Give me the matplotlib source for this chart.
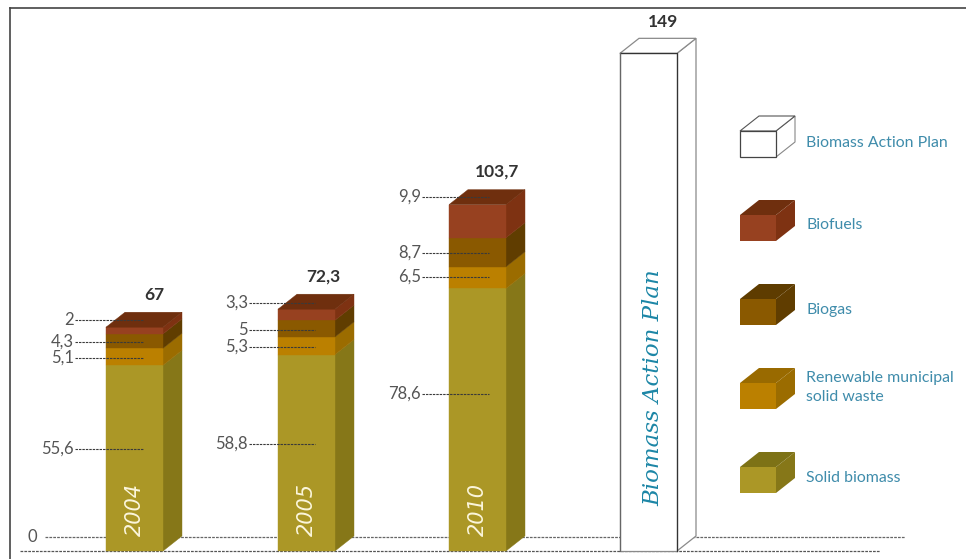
import matplotlib
matplotlib.use('Agg')
import matplotlib.pyplot as plt
from matplotlib.patches import Polygon

years = ['2004', '2005', '2010']
solid_biomass = [55.6, 58.8, 78.6]
municipal_waste = [5.1, 5.3, 6.5]
biogas = [4.3, 5, 8.7]
biofuels = [2, 3.3, 9.9]
totals = ['67', '72,3', '103,7']
plan_total = 149
plan_name = 'Biomass Action Plan'
series_names = ['Solid biomass', 'Renewable municipal\nsolid waste', 'Biogas', 'Biofuels']

# front, side, top colours of each stacked layer
colors = [('#ab9726', '#867718', '#7d7216'),
          ('#bb8000', '#9b6c00', '#996a00'),
          ('#8a5900', '#603d00', '#5e3c00'),
          ('#974120', '#7e3212', '#6f2f0e')]

W, H = 966, 559
BASE = 551      # pixel row of value 0
SCALE = 3.34    # pixels per unit
BAR_W = 57
DX, DY = 19, 15  # depth of the boxes, in pixels
bar_left = [106, 278, 449]
plan_left = 620


def py(row):
    # pixel row -> value on the y axis
    return (BASE - row) / SCALE


def box(ax, left, bottom, top, cols, edge=None, top_face=True):
    dy = DY / SCALE
    ax.add_patch(Polygon([(left + BAR_W, bottom), (left + BAR_W + DX, bottom + dy),
                          (left + BAR_W + DX, top + dy), (left + BAR_W, top)],
                         fc=cols[1], ec=edge or cols[1], lw=0.9 if edge else 0.3, zorder=3))
    ax.bar(left, top - bottom, BAR_W, bottom=bottom, align='edge', color=cols[0],
           edgecolor=edge or cols[0], linewidth=0.9 if edge else 0.3, zorder=3)
    if top_face:
        ax.add_patch(Polygon([(left, top), (left + DX, top + dy),
                              (left + BAR_W + DX, top + dy), (left + BAR_W, top)],
                             fc=cols[2], ec=edge or cols[2], lw=0.9 if edge else 0.3, zorder=3))


fig = plt.figure(figsize=(W / 100, H / 100), dpi=100)
ax = fig.add_axes([0, 0, 1, 1])
ax.set_xlim(0, W)
ax.set_ylim(py(H), py(0))
ax.axis('off')
plt.rcParams['font.family'] = ['Lato', 'DejaVu Sans']

# frame at the top and on the left
ax.plot([10, 10], [py(H), py(8)], color='#444444', lw=1.2)
ax.plot([10, W], [py(8), py(8)], color='#444444', lw=1.2)

# the two dashed ground lines
dash = (0, (2.2, 0.9))
ax.plot([45, 905], [py(537), py(537)], color='#666666', lw=0.9, ls=dash, zorder=1)
ax.plot([20, 880], [py(551), py(551)], color='#555555', lw=0.9, ls=dash, zorder=1)
ax.text(32, py(537), '0', ha='center', va='center', fontsize=12, color='#555555')

# stacked boxes
layers = [solid_biomass, municipal_waste, biogas, biofuels]
for i in range(len(years)):
    bottom = 0
    for j, layer in enumerate(layers):
        box(ax, bar_left[i], bottom, bottom + layer[i], colors[j], top_face=j == len(layers) - 1)
        bottom += layer[i]
    ax.text(bar_left[i] + 29, py(509), years[i], rotation=90, ha='center', va='center',
            fontsize=15, family='DejaVu Sans', style='italic', color='#fbf6dc', zorder=5)

# action plan box
box(ax, plan_left, 0, plan_total, ('white', 'white', 'white'), edge='#8a8a8a')
ax.plot([plan_left, plan_left + BAR_W, plan_left + BAR_W],
        [plan_total, plan_total, 0], color='#333333', lw=0.9, zorder=4)
ax.plot([plan_left, plan_left], [0, plan_total], color='#666666', lw=0.9, zorder=4)
ax.text(plan_left + 33, py(388), plan_name, rotation=90, ha='center', va='center', fontsize=16.5,
        family='DejaVu Serif', style='italic', color='#1c86a6', zorder=5)

# totals above the boxes
for x, row, s in zip([154, 323, 497, 663], [295, 277, 172, 22], totals + [str(plan_total)]):
    ax.text(x, py(row), s, ha='center', va='center', fontsize=12.5, weight='bold', color='#333333')

# value labels with their leaders
label_rows = [[449, 358, 342, 320], [444, 347, 330, 303], [394, 277, 253, 197]]
leader_start = [75, 249, 422]
leader_end = [143, 315, 489]
for i in range(len(years)):
    for j, layer in enumerate(layers):
        row = label_rows[i][j]
        ax.plot([leader_start[i], leader_end[i]], [py(row), py(row)], color='#3a3a3a',
                lw=0.8, ls=dash, zorder=4)
        ax.text(leader_start[i] - 1, py(row), str(layer[i]).replace('.', ','), ha='right', va='center',
                fontsize=12, color='#555555')

# legend
leg_left = 740
leg_w = 36
leg_h = 26
leg_rows = [493, 409, 325, 241]
leg_text = [478, 387.5, 310, 225]
teal = '#3f8cab'
for j in range(4):
    b = py(leg_rows[j])
    t = py(leg_rows[j] - leg_h)
    dy = DY / SCALE
    ax.add_patch(Polygon([(leg_left + leg_w, b), (leg_left + leg_w + DX, b + dy),
                          (leg_left + leg_w + DX, t + dy), (leg_left + leg_w, t)], fc=colors[j][1], lw=0))
    ax.add_patch(Polygon([(leg_left, t), (leg_left + DX, t + dy),
                          (leg_left + leg_w + DX, t + dy), (leg_left + leg_w, t)], fc=colors[j][2], lw=0))
    ax.bar(leg_left, t - b, leg_w, bottom=b, align='edge', color=colors[j][0], linewidth=0)
    ax.text(806, py(leg_text[j]), series_names[j], ha='left', va='center', fontsize=11.4,
            color=teal, linespacing=1.4)

# white legend box for the action plan
b = py(157)
t = py(131)
dy = DY / SCALE
ax.add_patch(Polygon([(leg_left + leg_w, b), (leg_left + leg_w + DX, b + dy),
                      (leg_left + leg_w + DX, t + dy), (leg_left + leg_w, t)], fc='white', ec='#888888', lw=0.8))
ax.add_patch(Polygon([(leg_left, t), (leg_left + DX, t + dy),
                      (leg_left + leg_w + DX, t + dy), (leg_left + leg_w, t)], fc='white', ec='#555555', lw=0.8))
ax.bar(leg_left, t - b, leg_w, bottom=b, align='edge', color='white', edgecolor='#444444', linewidth=0.9)
ax.text(806, py(143), plan_name, ha='left', va='center', fontsize=11.4, color=teal)

fig.savefig('out.png', dpi=100)
